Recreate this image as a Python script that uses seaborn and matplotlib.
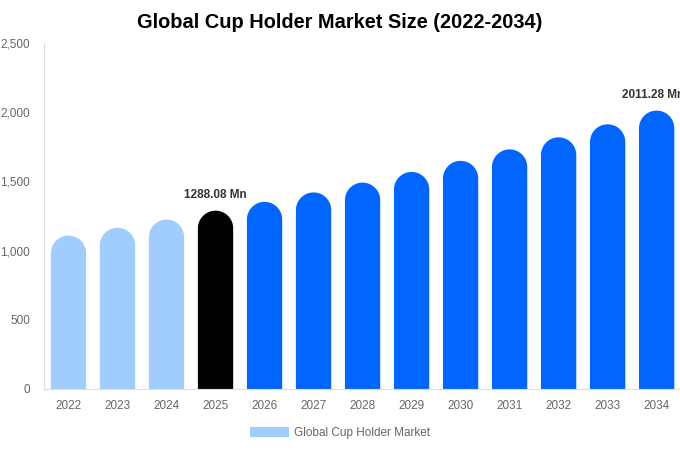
import numpy as np
import pandas as pd
import matplotlib
matplotlib.use("Agg")
import matplotlib.pyplot as plt
from matplotlib.path import Path
from matplotlib.patches import PathPatch, Patch
from matplotlib.ticker import FuncFormatter
import seaborn as sns

years = ["2022", "2023", "2024", "2025", "2026", "2027", "2028",
         "2029", "2030", "2031", "2032", "2033", "2034"]
values = [1108, 1165, 1224, 1288.08, 1352, 1420, 1491,
          1568, 1648, 1731, 1818, 1912, 2011.28]
bar_colors = ["#a0cdfd"] * 3 + ["#000000"] + ["#0066ff"] * 9
labels = {"2025": "1288.08 Mn", "2034": "2011.28 Mn"}

df = pd.DataFrame({"year": years, "value": values})

sns.set_theme(style="white")
plt.rcParams["font.family"] = ["Liberation Sans", "DejaVu Sans"]

fig = plt.figure(figsize=(6.8, 4.5), dpi=100)
ax = fig.add_axes([0.0647, 0.1356, 0.937, 0.769])

sns.barplot(data=df, x="year", y="value", hue="year", palette=bar_colors,
            width=0.72, legend=False, ax=ax, saturation=1)
ax.set_ylim(0, 2500)
ax.set_xlim(-0.5, len(years) - 0.5)

# replace square bars with round-topped ones
fig.canvas.draw()
px_per_y = ax.transData.transform((0, 1))[1] - ax.transData.transform((0, 0))[1]
px_per_x = ax.transData.transform((1, 0))[0] - ax.transData.transform((0, 0))[0]
for p in list(ax.patches):
    x0, w, h = p.get_x(), p.get_width(), p.get_height()
    col = p.get_facecolor()
    p.remove()
    rx = w / 2
    ry = rx * px_per_x / px_per_y
    cx = x0 + rx
    t = np.linspace(np.pi, 0, 40)
    arc = np.column_stack([cx + rx * np.cos(t), h - ry + ry * np.sin(t)])
    verts = np.vstack([[x0, 0], arc, [x0 + w, 0], [x0, 0]])
    ax.add_patch(PathPatch(Path(verts), facecolor=col, edgecolor="none"))

for i, y in enumerate(years):
    if y in labels:
        ax.text(i - 0.08 * (y == "2034"), values[i] + 70, labels[y],
                ha="center", va="bottom", fontsize=8.5, fontweight="bold",
                color="#333333", clip_on=False)

ax.yaxis.set_major_formatter(FuncFormatter(lambda v, _: f"{int(v):,}"))
ax.set_yticks([0, 500, 1000, 1500, 2000, 2500])
ax.tick_params(axis="both", length=0, labelsize=8.5, labelcolor="#666666")
ax.tick_params(axis="x", pad=8)
ax.tick_params(axis="y", pad=10)
ax.set_xlabel("")
ax.set_ylabel("")
for s in ["top", "right"]:
    ax.spines[s].set_visible(False)
for s in ["left", "bottom"]:
    ax.spines[s].set_color("#dddddd")
    ax.spines[s].set_linewidth(0.8)

fig.suptitle("Global Cup Holder Market Size (2022-2034)", x=0.5, y=0.97,
             fontsize=14.4, fontweight="bold", color="#000000")

fig.legend(handles=[Patch(facecolor="#a0cdfd", edgecolor="none",
                          label="Global Cup Holder Market")],
           loc="center", bbox_to_anchor=(0.5, 0.037), frameon=False,
           fontsize=8.5, labelcolor="#666666", handlelength=3.3,
           handleheight=0.9, handletextpad=0.5)

fig.savefig("out.png", dpi=100)
